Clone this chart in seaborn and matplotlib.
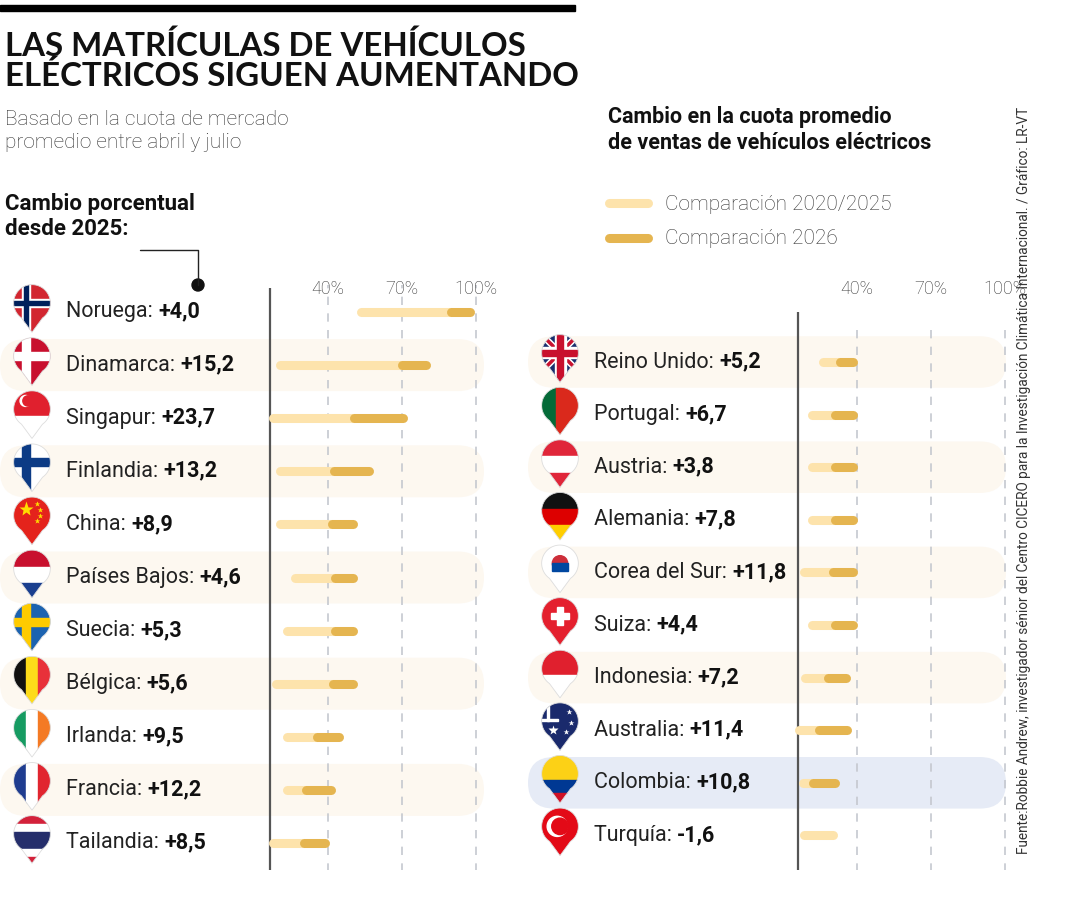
import matplotlib
matplotlib.use("Agg")
import matplotlib.pyplot as plt
import seaborn as sns
import numpy as np
from matplotlib.transforms import Affine2D, blended_transform_factory
from matplotlib.patches import FancyBboxPatch, Polygon, Rectangle, Circle

# ---- data (market share %, 2020 -> 2025 -> 2026) ----
left_names = ["Noruega", "Dinamarca", "Singapur", "Finlandia", "China", "Países Bajos",
              "Suecia", "Bélgica", "Irlanda", "Francia", "Tailandia"]
left_change = ["+4,0", "+15,2", "+23,7", "+13,2", "+8,9", "+4,6", "+5,3", "+5,6", "+9,5", "+12,2", "+8,5"]
left_2020 = [53.5, 20.7, 17.7, 20.7, 20.7, 26.9, 23.6, 19.1, 23.6, 23.6, 18.0]
left_2025 = [90.0, 70.0, 50.8, 42.7, 41.8, 43.1, 43.1, 42.3, 35.5, 31.3, 30.2]
left_2026 = [97.6, 79.8, 70.4, 56.6, 50.1, 50.1, 50.1, 50.1, 44.5, 41.1, 38.8]

right_names = ["Reino Unido", "Portugal", "Austria", "Alemania", "Corea del Sur", "Suiza",
               "Indonesia", "Australia", "Colombia", "Turquía"]
right_change = ["+5,2", "+6,7", "+3,8", "+7,8", "+11,8", "+4,4", "+7,2", "+11,4", "+10,8", "-1,6"]
right_2020 = [26.5, 21.8, 21.8, 21.8, 18.7, 21.8, 19.1, 16.4, 18.1, 18.7]
right_2025 = [33.0, 31.3, 31.3, 31.3, 30.3, 31.3, 28.5, 24.5, 22.4, 30.3]
right_2026 = [38.6, 38.6, 38.6, 38.6, 38.6, 38.6, 35.7, 36.1, 31.3, 30.3]

grid_ticks = [40, 70, 100]
grid_labels = ["40%", "70%", "100%"]

LIGHT = "#fde3ac"
DARK = "#e5b550"
BAND = "#fdf8f0"
BLUE_BAND = "#e6ebf6"

sns.set_theme(style="white")
plt.rcParams["font.family"] = ["Roboto", "DejaVu Sans"]

fig = plt.figure(figsize=(10.8, 9), dpi=100)
fig.patch.set_facecolor("white")
PX = Affine2D().scale(1 / 1080, -1 / 900).translate(0, 1) + fig.transFigure


def add_ax(x0, x1, y0, y1):
    return fig.add_axes([x0 / 1080, 1 - y1 / 900, (x1 - x0) / 1080, (y1 - y0) / 900])


# left panel: 0% at px 229, 2.47 px per %
axL = add_ax(0, 490, 285, 870)
axL.set_xlim(-229 / 2.47, (490 - 229) / 2.47)
axL.set_ylim((870 - 312) / 53.1, -(312 - 285) / 53.1)
# right panel: 0% at px 758, 2.47 px per %
axR = add_ax(490, 1040, 285, 870)
axR.set_xlim((490 - 758) / 2.47, (1040 - 758) / 2.47)
axR.set_ylim((870 - 362) / 52.6, -(362 - 285) / 52.6)
for ax in (axL, axR):
    ax.axis("off")
    ax.patch.set_alpha(0)


# ---- flags ----
def pin_poly():
    ang = np.linspace(np.deg2rad(-55), np.deg2rad(235), 80)
    pts = np.column_stack([np.cos(ang), np.sin(ang)])
    return np.vstack([pts, [[0, -1.6]]])


FLAGS = {
    "Noruega": ("cross", "#d22630", "white", "#00205b"),
    "Dinamarca": ("cross", "#c8102e", "white", None),
    "Singapur": ("h", ["#e0202e", "white"], [1, 1]),
    "Finlandia": ("cross", "white", "#0c3b85", None),
    "China": ("star", "#e4231c", "#ffde00"),
    "Países Bajos": ("h", ["#c8102e", "white", "#1a3f8f"], [1, 1, 1]),
    "Suecia": ("cross", "#1c63b0", "#fecb00", None),
    "Bélgica": ("v", ["#111111", "#fddb1a", "#e8313a"], [1, 1, 1]),
    "Irlanda": ("v", ["#169b62", "white", "#f47a24"], [1, 1, 1]),
    "Francia": ("v", ["#1f3c8f", "white", "#e1252f"], [1, 1, 1]),
    "Tailandia": ("h", ["#d3213a", "white", "#252e6b", "white", "#d3213a"], [1, 1, 2, 1, 1]),
    "Reino Unido": ("uk",),
    "Portugal": ("v", ["#046a38", "#da291c"], [2, 3]),
    "Austria": ("h", ["#e0263a", "white", "#e0263a"], [1, 1, 1]),
    "Alemania": ("h", ["#111111", "#dd0000", "#ffce00"], [1, 1, 1]),
    "Corea del Sur": ("dot", "white", "#cd2e3a"),
    "Suiza": ("swiss",),
    "Indonesia": ("h", ["#e0202e", "white"], [1, 1]),
    "Australia": ("star", "#1a2a6c", "white"),
    "Colombia": ("h", ["#fcd116", "#003893", "#ce1126"], [2, 1, 1]),
    "Turquía": ("turkey",),
}


def draw_flag(name, cx, cy):
    fa = add_ax(cx - 22, cx + 22, cy - 31, cy + 23)
    fa.set_xlim(-1.2, 1.2)
    fa.set_ylim(-1.75, 1.2)
    fa.axis("off")
    fa.patch.set_alpha(0)
    clip = Polygon(pin_poly(), closed=True, transform=fa.transData)
    spec = FLAGS[name]
    arts = []
    kind = spec[0]
    if kind in ("h", "v"):
        cols, w = spec[1], np.array(spec[2], float)
        edges = np.concatenate([[0], np.cumsum(w)]) / w.sum()
        for c, a, b in zip(cols, edges[:-1], edges[1:]):
            if kind == "h":
                t, bt = 1 - a * 2.7, 1 - b * 2.7
                arts.append(Rectangle((-1.2, bt), 2.4, t - bt, color=c))
            else:
                arts.append(Rectangle((-1 + a * 2, -1.8), (b - a) * 2, 3, color=c))
    elif kind == "cross":
        bg, c1, c2 = spec[1], spec[2], spec[3]
        arts.append(Rectangle((-1.2, -1.8), 2.4, 3, color=bg))
        arts.append(Rectangle((-1.2, -0.22), 2.4, 0.44, color=c1))
        arts.append(Rectangle((-0.55, -1.8), 0.44, 3, color=c1))
        if c2:
            arts.append(Rectangle((-1.2, -0.11), 2.4, 0.22, color=c2))
            arts.append(Rectangle((-0.44, -1.8), 0.22, 3, color=c2))
    elif kind == "uk":
        arts.append(Rectangle((-1.2, -1.8), 2.4, 3, color="#1a2f6e"))
        for s in (1, -1):
            arts.append(Polygon([[-1.2, -1.2 * s - 0.2], [-1.2, -1.2 * s + 0.2], [1.2, 1.2 * s + 0.2], [1.2, 1.2 * s - 0.2]], color="white"))
        for s in (1, -1):
            arts.append(Polygon([[-1.2, -1.2 * s - 0.08], [-1.2, -1.2 * s + 0.08], [1.2, 1.2 * s + 0.08], [1.2, 1.2 * s - 0.08]], color="#c8102e"))
        arts.append(Rectangle((-1.2, -0.3), 2.4, 0.6, color="white"))
        arts.append(Rectangle((-0.3, -1.8), 0.6, 3, color="white"))
        arts.append(Rectangle((-1.2, -0.17), 2.4, 0.34, color="#c8102e"))
        arts.append(Rectangle((-0.17, -1.8), 0.34, 3, color="#c8102e"))
    elif kind == "star":
        arts.append(Rectangle((-1.2, -1.8), 2.4, 3, color=spec[1]))
    elif kind == "dot":
        arts.append(Rectangle((-1.2, -1.8), 2.4, 3, color=spec[1]))
        arts.append(Circle((0, 0), 0.42, color=spec[2]))
        arts.append(Rectangle((-0.42, -0.42), 0.84, 0.42, color="#0047a0"))
    elif kind == "swiss":
        arts.append(Rectangle((-1.2, -1.8), 2.4, 3, color="#e4202e"))
        arts.append(Rectangle((-0.5, -0.15), 1.0, 0.3, color="white"))
        arts.append(Rectangle((-0.15, -0.5), 0.3, 1.0, color="white"))
    elif kind == "turkey":
        arts.append(Rectangle((-1.2, -1.8), 2.4, 3, color="#e30a17"))
        arts.append(Circle((-0.15, 0), 0.55, color="white"))
        arts.append(Circle((0.0, 0), 0.45, color="#e30a17"))
    for a in arts:
        fa.add_patch(a)
        a.set_clip_path(clip)
    if name == "China":
        fa.plot([-0.35], [0.35], marker="*", ms=11, color=spec[2], mec="none")
        for dx, dy in [(0.25, 0.6), (0.45, 0.3), (0.45, -0.05), (0.25, -0.3)]:
            fa.plot([dx], [dy], marker="*", ms=4, color=spec[2], mec="none")
    if name == "Australia":
        for dx, dy, m in [(-0.4, -0.5, 7), (0.5, 0.5, 4), (0.6, -0.1, 4), (0.3, -0.6, 4)]:
            fa.plot([dx], [dy], marker="*", ms=m, color="white", mec="none")
        fa.add_patch(Rectangle((-1.2, 0.0), 1.1, 0.12, color="white", clip_path=clip))
        fa.add_patch(Rectangle((-0.7, 0.0), 0.12, 1.2, color="white", clip_path=clip))
    if name == "Singapur":
        fa.add_patch(Circle((-0.35, 0.45), 0.3, color="white"))
        fa.add_patch(Circle((-0.22, 0.45), 0.28, color="#e0202e"))
    fa.add_patch(Polygon(pin_poly(), closed=True, fill=False, ec="#dddddd", lw=0.6))


# ---- panels ----
def draw_panel(ax, names, changes, v20, v25, v26, banded, blue_idx, band_px, label_px, flag_px, axis_val, axis_top):
    ys = np.arange(len(names))
    bt = blended_transform_factory(PX, ax.transData)
    for i in ys:
        if i in banded or i == blue_idx:
            col = BLUE_BAND if i == blue_idx else BAND
            ax.add_patch(FancyBboxPatch((band_px[0], i - 0.49), band_px[1] - band_px[0], 0.98,
                                        boxstyle="round,pad=0,rounding_size=26", transform=bt,
                                        fc=col, ec="none", zorder=0, mutation_aspect=1 / 53))
    ax.vlines(axis_val, axis_top, ax.get_ylim()[0], color="#555555", lw=1.6, zorder=2)
    ax.vlines(grid_ticks, -0.6 if axis_top > -1 else -1.1, ax.get_ylim()[0], color="#c5c8cf",
              lw=1.2, ls=(0, (5, 5)), zorder=1)
    for gx, gl in zip(grid_ticks, grid_labels):
        ax.text(gx, ax.get_ylim()[1] + 0.08, gl, ha="center", va="center", fontsize=13,
                color="#333333", fontweight="light")
    ax.hlines(ys, v20, v25, color=LIGHT, lw=6.5, capstyle="round", zorder=3)
    d = [(y, a, b) for y, a, b in zip(ys, v25, v26) if b > a]
    ax.hlines([t[0] for t in d], [t[1] for t in d], [t[2] for t in d], color=DARK, lw=6.5,
              capstyle="round", zorder=4)
    for i, (n, c) in enumerate(zip(names, changes)):
        t = ax.text(label_px, i, n + ": ", transform=bt, va="center", ha="left", fontsize=15.5, color="#222222")
        ax.annotate(c, xy=(1, 0), xycoords=t, va="bottom", ha="left", fontsize=15.5,
                    fontweight="bold", color="#111111")
        fy = ax.transData.transform((0, i))[1]
        draw_flag(n, flag_px, 900 - fy)


draw_panel(axL, left_names, left_change, left_2020, left_2025, left_2026,
           banded={1, 3, 5, 7, 9}, blue_idx=None, band_px=(0, 484), label_px=66, flag_px=32,
           axis_val=16.6, axis_top=-0.45)
draw_panel(axR, right_names, right_change, right_2020, right_2025, right_2026,
           banded={0, 2, 4, 6}, blue_idx=8, band_px=(528, 1006), label_px=594, flag_px=560,
           axis_val=16.0, axis_top=-0.95)

# ---- titles and notes ----
fig.add_artist(Rectangle((0, 5), 575, 6, transform=PX, color="black"))
fig.text(5, 30, "LAS MATRÍCULAS DE VEHÍCULOS\nELÉCTRICOS SIGUEN AUMENTANDO", transform=PX,
         va="top", ha="left", fontsize=23.8, fontweight="bold", family=["Lato", "DejaVu Sans"],
         linespacing=1.0, color="#111111")
fig.text(5, 110, "Basado en la cuota de mercado\npromedio entre abril y julio", transform=PX,
         va="top", ha="left", fontsize=15, color="#333333", linespacing=1.3, fontweight="light")
fig.text(5, 193, "Cambio porcentual\ndesde 2025:", transform=PX, va="top", ha="left",
         fontsize=16, fontweight="bold", color="#111111", linespacing=1.2)
fig.add_artist(plt.Line2D([140, 198, 198], [250, 250, 285], transform=PX, color="#222222", lw=1))
fig.add_artist(Circle((198, 285), 6, transform=PX, color="#111111"))
fig.text(608, 106, "Cambio en la cuota promedio\nde ventas de vehículos eléctricos", transform=PX,
         va="top", ha="left", fontsize=15.5, fontweight="bold", color="#111111", linespacing=1.25)
fig.add_artist(plt.Line2D([609, 648], [203, 203], transform=PX, color=LIGHT, lw=6.5, solid_capstyle="round"))
fig.add_artist(plt.Line2D([609, 648], [238, 238], transform=PX, color=DARK, lw=6.5, solid_capstyle="round"))
fig.text(665, 204, "Comparación 2020/2025", transform=PX, va="center", ha="left", fontsize=15,
         color="#333333", fontweight="light")
fig.text(665, 238, "Comparación 2026", transform=PX, va="center", ha="left", fontsize=15,
         color="#333333", fontweight="light")
fig.text(1024, 480, "Fuente:Robbie Andrew, investigador sénior del Centro CICERO para la Investigación "
         "Climática Internacional. / Gráfico: LR-VT", transform=PX, rotation=90, va="center",
         ha="center", fontsize=9.8, color="#333333")

fig.savefig("out.png", dpi=100, facecolor="white")
